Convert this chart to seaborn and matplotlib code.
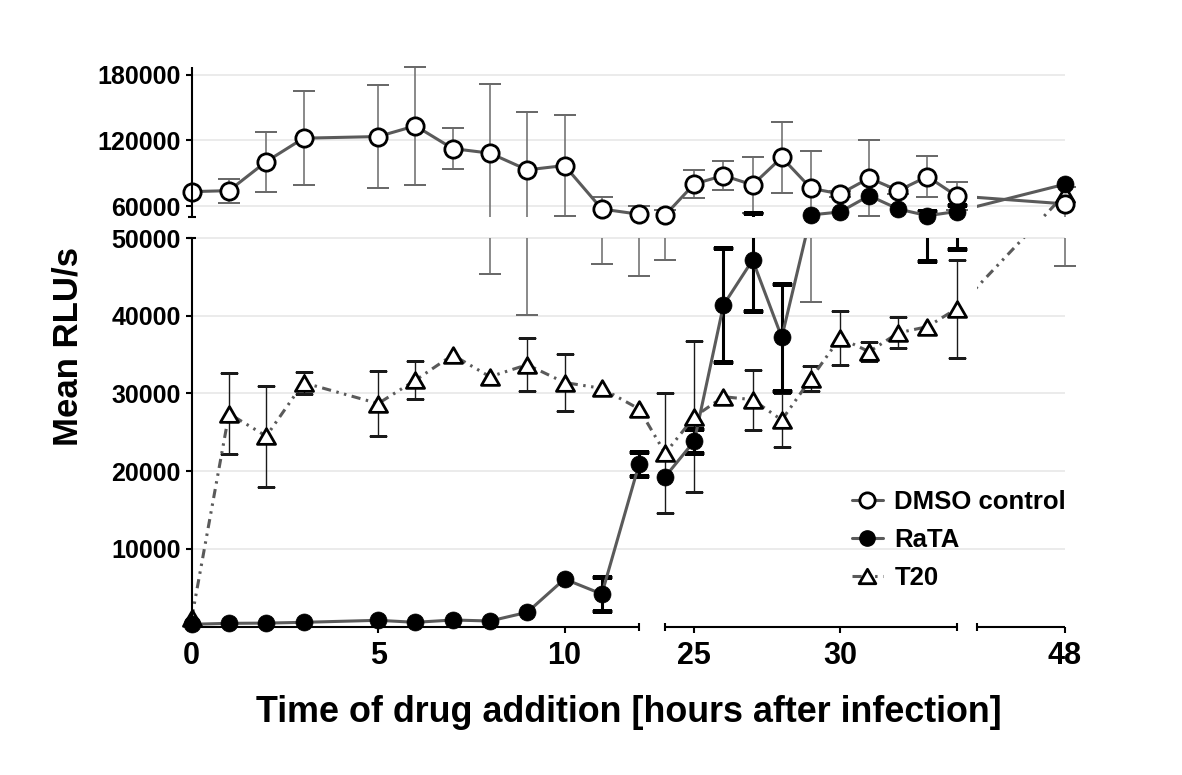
import numpy as np
import pandas as pd
import matplotlib
matplotlib.use("Agg")
import matplotlib.pyplot as plt
from matplotlib.path import Path
from matplotlib.lines import Line2D
import seaborn as sns

# Time of drug addition (hours after infection)
hours = [0, 1, 2, 3, 5, 6, 7, 8, 9, 10, 11, 12,
         24, 25, 26, 27, 28, 29, 30, 31, 32, 33, 34, 48]
# first block (0-12 h) and second block (24-48 h); DMSO / RaTA are not joined across it
block = [0] * 12 + [1] * 12

# Mean RLU/s and error bars
dmso_mean = [73200, 74100, 100700, 122100, 123600, 133400, 112600, 108400, 93100, 97100, 57300, 52500,
             51800, 80300, 87900, 79400, 104500, 76300, 71100, 85600, 74200, 87000, 69300, 62000]
dmso_err = [0, 11000, 27500, 43000, 47000, 54000, 19000, 63000, 53000, 46000, 10700, 7400,
            4600, 13000, 13000, 25700, 32800, 34500, 3000, 34600, 3000, 18500, 12500, 15600]
rata_mean = [300, 420, 450, 550, 810, 550, 850, 720, 1840, 6120, 4190, 20920,
             19290, 23880, 41380, 47170, 37220, 51900, 54600, 69500, 57300, 51200, 55000, 80000]
rata_err = [0, 0, 0, 0, 0, 0, 0, 0, 0, 0, 2200, 1600,
            0, 1500, 7330, 6500, 6900, 0, 0, 0, 0, 4100, 6400, 0]
t20_mean = [1070, 27400, 24500, 31380, 28700, 31700, 34950, 32150, 33700, 31400, 30660, 28000,
            22300, 27000, 29580, 29200, 26580, 31900, 37150, 35370, 37800, 38590, 40900, 71000]
t20_err = [0, 5250, 6500, 1400, 4160, 2420, 0, 0, 3450, 3650, 0, 0,
           7700, 9700, 0, 3860, 3450, 1600, 3430, 1200, 2000, 0, 6300, 0]

x_ticks = [0, 5, 10, 25, 30, 48]
y_ticks = [10000, 20000, 30000, 40000, 50000, 60000, 120000, 180000]

# Broken axes: breakpoints in data units and where they land (pixels from axes origin)
X_BREAKS = [0, 12, 24, 34, 45, 48]
X_PIX = [0, 447.4, 473.5, 764.9, 785.0, 873.3]
Y_BREAKS = [0, 50000, 50001, 187500]
Y_PIX = [0, 388.6, 409.6, 559.9]

LINE = "#5a5a5a"


def piecewise(src, dst):
    def make(a, b):
        a = np.asarray(a, float)
        b = np.asarray(b, float)
        lo = (b[1] - b[0]) / (a[1] - a[0])
        hi = (b[-1] - b[-2]) / (a[-1] - a[-2])

        def f(v):
            v = np.asarray(v, float)
            out = np.interp(v, a, b)
            out = np.where(v < a[0], b[0] + (v - a[0]) * lo, out)
            return np.where(v > a[-1], b[-1] + (v - a[-1]) * hi, out)
        return f
    return make(src, dst), make(dst, src)


def clip_rects(xr, yr):
    parts = [Path([(x0, y0), (x1, y0), (x1, y1), (x0, y1), (x0, y0)], closed=True)
             for x0, x1 in xr for y0, y1 in yr]
    return Path.make_compound_path(*parts)


sns.set_theme(style="white")
plt.rcParams["font.family"] = ["Liberation Sans", "DejaVu Sans"]
plt.rcParams["font.weight"] = "bold"
plt.rcParams["axes.labelweight"] = "bold"
for key in ["text.color", "axes.labelcolor", "xtick.color", "ytick.color"]:
    plt.rcParams[key] = "black"

df = pd.DataFrame({"hours": hours, "block": block,
                   "dmso": dmso_mean, "rata": rata_mean, "t20": t20_mean})

fig = plt.figure(figsize=(11.82, 7.75), dpi=100)
ax = fig.add_axes([191.7 / 1182, 148.4 / 775, 873.3 / 1182, 559.9 / 775])
ax.set_xscale("function", functions=piecewise(X_BREAKS, X_PIX))
ax.set_yscale("function", functions=piecewise(Y_BREAKS, Y_PIX))
ax.set_xlim(0, 48)
ax.set_ylim(0, 187500)

line_clip = clip_rects([(-2, 34.35), (45, 50)], [(-5000, 50000), (50001, 250000)])
bar_clip = clip_rects([(-2, 50)], [(-5000, 50000), (50001, 250000)])


def add_line(col, units=None, **kw):
    n = len(ax.lines)
    sns.lineplot(data=df, x="hours", y=col, units=units, estimator=None, sort=False,
                 color=LINE, linewidth=2.2, legend=False, ax=ax, zorder=3, **kw)
    for ln in ax.lines[n:]:
        ln.set_clip_path(line_clip, ax.transData)


def add_err(mean, err, color, lw, cap):
    e = np.array(err)
    m = e > 0
    eb = ax.errorbar(np.array(hours)[m], np.array(mean)[m], yerr=e[m], fmt="none",
                     ecolor=color, elinewidth=lw, capsize=cap, capthick=lw, zorder=2)
    for art in list(eb[1]) + list(eb[2]):
        art.set_clip_box(None)
        art.set_clip_path(bar_clip, ax.transData)


TRI = Path([(-1, -0.866), (1, -0.866), (0, 0.866), (-1, -0.866)], closed=True)
DASHDOTDOT = (0, (3, 1.8, 0.8, 1.8, 0.8, 1.8))

add_err(dmso_mean, dmso_err, "#6a6a6a", 1.1, 8)
add_err(t20_mean, t20_err, "#1a1a1a", 1.0, 6.5)
add_err(rata_mean, rata_err, "black", 2.2, 7)

add_line("dmso", units="block")
add_line("rata", units="block")
add_line("t20", linestyle=DASHDOTDOT)

sns.scatterplot(x=hours, y=t20_mean, marker=TRI, s=170, color="white", edgecolor="black",
                linewidth=2, zorder=4, clip_on=False, ax=ax, legend=False)
sns.scatterplot(x=hours, y=dmso_mean, marker="o", s=155, color="white", edgecolor="black",
                linewidth=2, zorder=4, clip_on=False, ax=ax, legend=False)
sns.scatterplot(x=hours, y=rata_mean, marker="o", s=150, color="black", edgecolor="black",
                linewidth=0.5, zorder=5, clip_on=False, ax=ax, legend=False)

# broken axis lines with end caps
xt = ax.get_xaxis_transform()
for a, b in [(0, 12), (24, 34), (45, 48)]:
    ax.plot([a, b], [0, 0], transform=xt, color="black", lw=1.5, clip_on=False,
            solid_capstyle="butt", zorder=6)
ax.plot([12, 24, 34, 45], [0, 0, 0, 0], transform=xt, ls="none", marker="|", ms=6,
        mew=1.5, color="black", clip_on=False, zorder=6)
yt = ax.get_yaxis_transform()
for a, b in [(0, 50000), (50001, 187500)]:
    ax.plot([0, 0], [a, b], transform=yt, color="black", lw=1.5, clip_on=False,
            solid_capstyle="butt", zorder=6)
ax.plot([0, 0], [50000, 50001], transform=yt, ls="none", marker="_", ms=6,
        mew=1.5, color="black", clip_on=False, zorder=6)

for s in ax.spines.values():
    s.set_visible(False)

ax.set_xticks(x_ticks)
ax.set_xticklabels([str(t) for t in x_ticks])
ax.set_yticks(y_ticks)
ax.set_yticklabels([str(t) for t in y_ticks])
ax.minorticks_off()
ax.tick_params(axis="both", direction="out", length=4.3, width=1.5, color="black",
               bottom=True, left=True)
ax.tick_params(axis="x", labelsize=22, pad=6)
ax.tick_params(axis="y", labelsize=18, pad=3.6)
ax.yaxis.grid(True, color="#e9e9e9", linewidth=1.3)
ax.xaxis.grid(False)
ax.set_axisbelow(True)

ax.set_xlabel("Time of drug addition [hours after infection]", fontsize=25.8, labelpad=17)
ax.set_ylabel("Mean RLU/s", fontsize=25, labelpad=9)

handles = [
    Line2D([], [], color=LINE, lw=2.2, marker="o", ms=11, mfc="white", mec="black", mew=2,
           label="DMSO control"),
    Line2D([], [], color=LINE, lw=2.2, marker="o", ms=11, mfc="black", mec="black",
           label="RaTA"),
    Line2D([], [], color=LINE, lw=2.2, ls=DASHDOTDOT, marker=TRI, ms=12, mfc="white",
           mec="black", mew=2, label="T20"),
]
ax.legend(handles=handles, loc="upper left", bbox_to_anchor=(852 / 1182, 1 - 490 / 775),
          bbox_transform=fig.transFigure, frameon=False, prop={"size": 18.5, "weight": "bold"},
          handlelength=1.2, handletextpad=0.45, labelspacing=0.55, borderpad=0,
          borderaxespad=0)

fig.savefig("out.png", dpi=100)
